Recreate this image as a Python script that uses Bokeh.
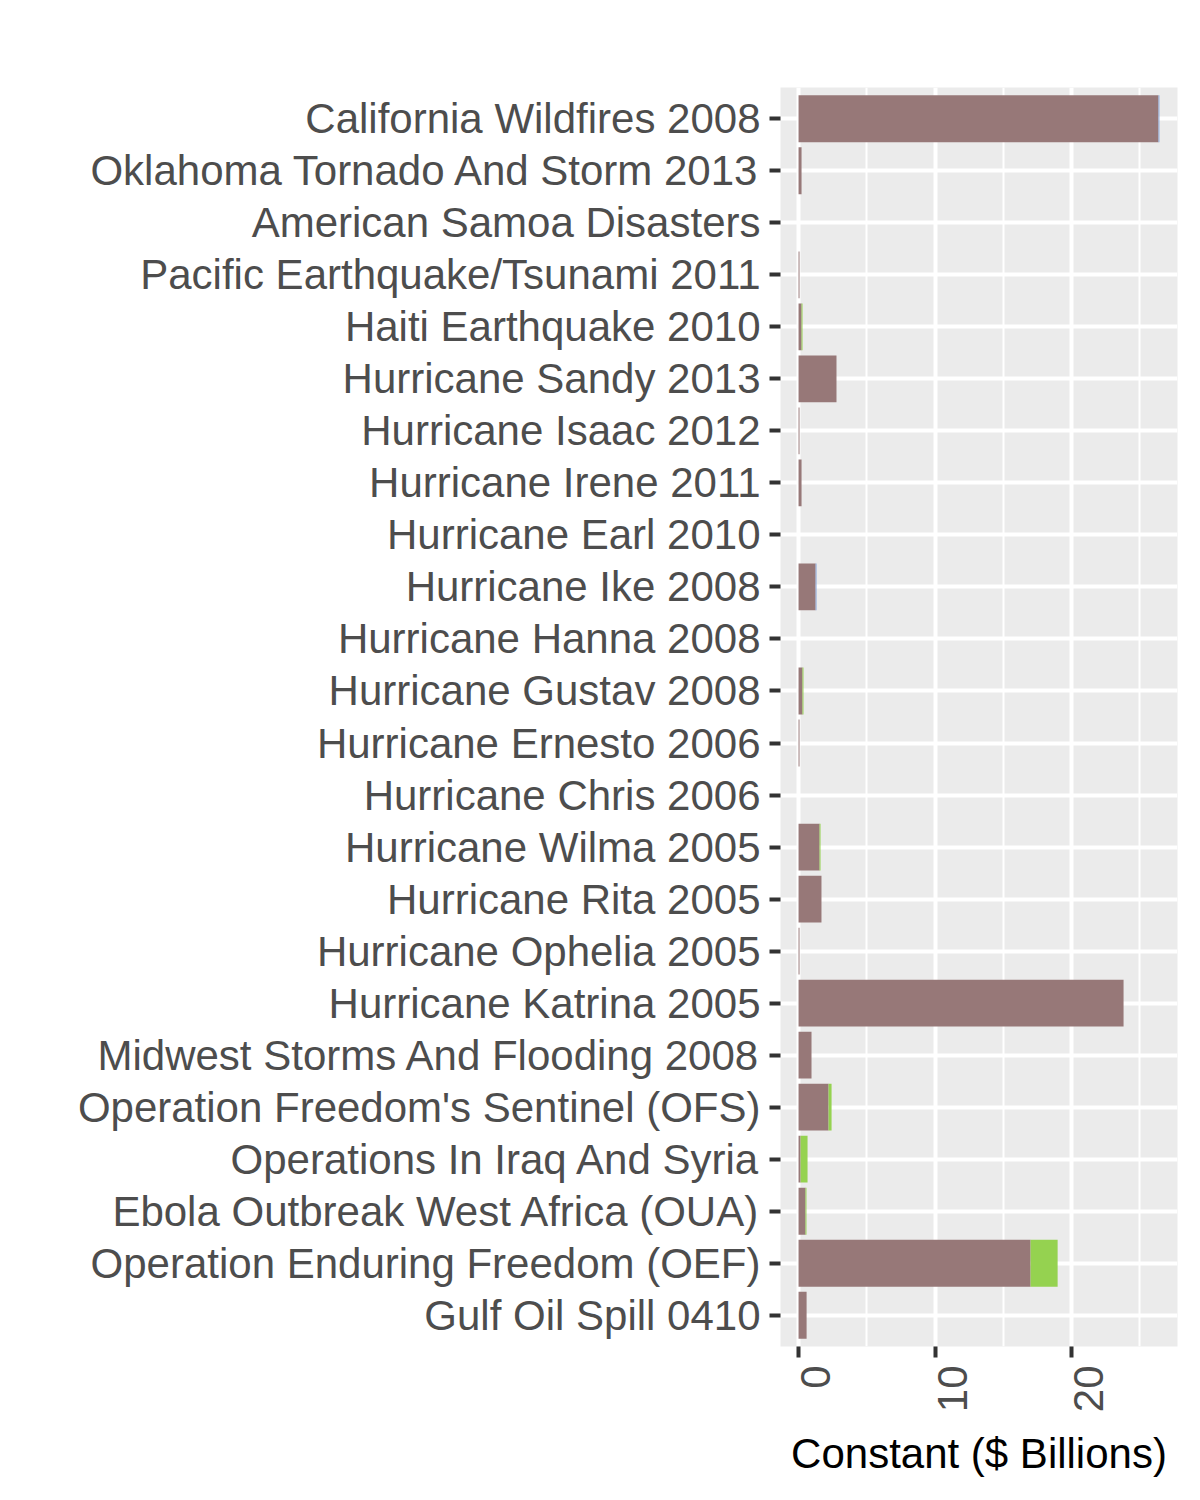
import math
from bokeh.plotting import figure
from bokeh.models import FixedTicker, ColumnDataSource, Range1d, LinearAxis
from bokeh.embed import file_html
from bokeh.resources import INLINE

# Categories, top to bottom
categories = [
    "California Wildfires 2008",
    "Oklahoma Tornado And Storm 2013",
    "American Samoa Disasters",
    "Pacific Earthquake/Tsunami 2011",
    "Haiti Earthquake 2010",
    "Hurricane Sandy 2013",
    "Hurricane Isaac 2012",
    "Hurricane Irene 2011",
    "Hurricane Earl 2010",
    "Hurricane Ike 2008",
    "Hurricane Hanna 2008",
    "Hurricane Gustav 2008",
    "Hurricane Ernesto 2006",
    "Hurricane Chris 2006",
    "Hurricane Wilma 2005",
    "Hurricane Rita 2005",
    "Hurricane Ophelia 2005",
    "Hurricane Katrina 2005",
    "Midwest Storms And Flooding 2008",
    "Operation Freedom's Sentinel (OFS)",
    "Operations In Iraq And Syria",
    "Ebola Outbreak West Africa (OUA)",
    "Operation Enduring Freedom (OEF)",
    "Gulf Oil Spill 0410",
]

# Values ($ Billions, constant), three stacked series
series_a = [26.37, 0.22, 0.0, 0.07, 0.22, 2.78, 0.07, 0.22, 0.0, 1.25, 0.0, 0.29,
            0.07, 0.0, 1.54, 1.68, 0.07, 23.81, 0.95, 2.20, 0.15, 0.51, 17.00, 0.59]
series_b = [0.0, 0.0, 0.0, 0.0, 0.07, 0.0, 0.0, 0.0, 0.0, 0.0, 0.0, 0.07,
            0.0, 0.0, 0.07, 0.0, 0.0, 0.0, 0.0, 0.22, 0.51, 0.07, 1.98, 0.0]
series_c = [0.07, 0.0, 0.0, 0.0, 0.0, 0.0, 0.0, 0.0, 0.0, 0.07, 0.0, 0.0,
            0.0, 0.0, 0.0, 0.0, 0.0, 0.0, 0.0, 0.0, 0.0, 0.0, 0.0, 0.0]

x_ticks = [0, 10, 20]
x_minor = [5, 15, 25]
x_tick_labels = ["0", "10", "20"]
x_title = "Constant ($ Billions)"

n = len(categories)
ypos = [n - 1 - i for i in range(n)]

totals = [a + b + c for a, b, c in zip(series_a, series_b, series_c)]
tmax = max(totals)
pad = 0.05 * tmax
x0, x1 = -pad, tmax + pad

src = ColumnDataSource(dict(y=ypos, a=series_a, b=series_b, c=series_c))

p = figure(width=1200, height=1500, output_backend="svg", toolbar_location=None,
           x_range=Range1d(x0, x1), y_range=Range1d(-0.6, n - 1 + 0.6),
           min_border_left=780, min_border_right=23, min_border_top=87,
           min_border_bottom=154)
p.title = None
p.background_fill_color = "#EBEBEB"
p.border_fill_color = "white"
p.outline_line_color = None

p.hbar_stack(["a", "b", "c"], y="y", height=0.9, source=src,
             color=["#977878", "#95D250", "#8EA9DB"], line_color=None)

# X axis: tick marks only
p.xaxis.ticker = FixedTicker(ticks=x_ticks, minor_ticks=x_minor)
p.xaxis.major_label_overrides = {t: "" for t in x_ticks}
p.xaxis.major_label_text_font_size = "1px"
p.xaxis.major_label_standoff = 0
p.xaxis.axis_line_color = None
p.xaxis.major_tick_out = 11
p.xaxis.major_tick_in = 0
p.xaxis.major_tick_line_width = 4
p.xaxis.major_tick_line_color = "#333333"
p.xaxis.minor_tick_out = 0
p.xaxis.minor_tick_in = 0

# Second x axis: rotated labels (slightly offset as in the reference) + title
shift = 17.0 / (397.0 / (x1 - x0))
lab_axis = LinearAxis(ticker=FixedTicker(ticks=[t + shift for t in x_ticks]))
lab_axis.major_label_overrides = {t + shift: l for t, l in zip(x_ticks, x_tick_labels)}
lab_axis.major_label_orientation = math.pi / 2
lab_axis.major_label_text_font = "Liberation Sans"
lab_axis.major_label_text_font_size = "42px"
lab_axis.major_label_text_color = "#4D4D4D"
lab_axis.major_label_standoff = 8
lab_axis.axis_line_color = None
lab_axis.major_tick_line_color = None
lab_axis.minor_tick_line_color = None
lab_axis.major_tick_out = 0
lab_axis.major_tick_in = 0
lab_axis.minor_tick_out = 0
lab_axis.minor_tick_in = 0
lab_axis.axis_label = x_title
lab_axis.axis_label_text_font = "Liberation Sans"
lab_axis.axis_label_text_font_size = "42px"
lab_axis.axis_label_text_font_style = "normal"
lab_axis.axis_label_text_color = "black"
lab_axis.axis_label_standoff = 15
p.add_layout(lab_axis, "below")

# Y axis
p.yaxis.ticker = FixedTicker(ticks=ypos)
p.yaxis.major_label_overrides = {y: c for y, c in zip(ypos, categories)}
p.yaxis.major_label_text_font = "Liberation Sans"
p.yaxis.major_label_text_font_size = "42px"
p.yaxis.major_label_text_color = "#4D4D4D"
p.yaxis.major_label_standoff = 9
p.yaxis.axis_line_color = None
p.yaxis.major_tick_out = 11
p.yaxis.major_tick_in = 0
p.yaxis.major_tick_line_width = 4
p.yaxis.major_tick_line_color = "#333333"
p.yaxis.minor_tick_out = 0
p.yaxis.minor_tick_in = 0

# Grid
p.xgrid.ticker = FixedTicker(ticks=x_ticks, minor_ticks=x_minor)
p.xgrid.grid_line_color = "white"
p.xgrid.grid_line_width = 4
p.xgrid.minor_grid_line_color = "white"
p.xgrid.minor_grid_line_width = 2
p.ygrid.ticker = FixedTicker(ticks=ypos)
p.ygrid.grid_line_color = "white"
p.ygrid.grid_line_width = 4

open("out.html", "w").write(file_html(p, INLINE))
